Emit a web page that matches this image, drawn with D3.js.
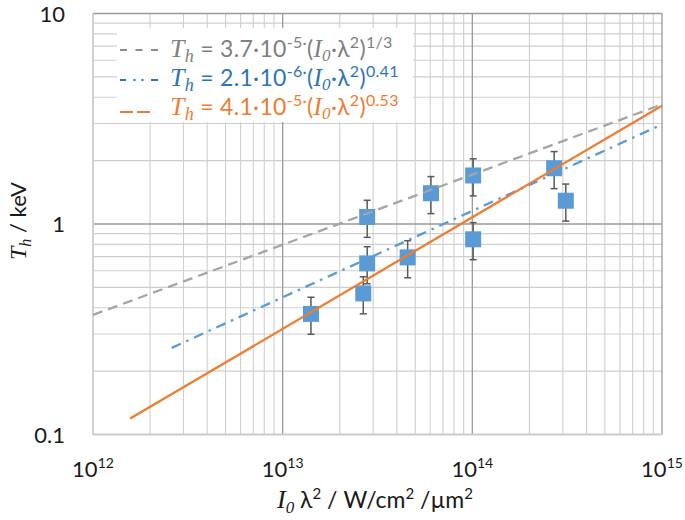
<!DOCTYPE html>
<html><head><meta charset="utf-8">
<script src="https://cdn.jsdelivr.net/npm/d3@7"></script>
<style>body{margin:0;background:#fff}svg{display:block}</style>
</head><body>
<svg id="c" width="685" height="520"></svg>
<script>
// ---- data ----
const pointX = [1.41e13, 2.79e13, 2.79e13, 2.66e13, 4.56e13, 6.05e13, 1.01e14, 1.01e14, 2.70e14, 3.11e14];
const pointY = [0.374, 1.08, 0.65, 0.468, 0.694, 1.40, 1.70, 0.846, 1.84, 1.29];
const errFraction = 0.2;
const grayFitX = [1e12, 1e15], grayFitY = [0.37, 3.7];
const blueFitX = [2.6e12, 1e15], blueFitY = [0.258, 2.97];
const orangeFitX = [1.57e12, 1e15], orangeFitY = [0.119, 3.65];
const xTickValues = [1e12, 1e13, 1e14, 1e15];
const xTickExponents = ["12", "13", "14", "15"];
const yTickValues = [0.1, 1, 10];
const yTickLabels = ["0.1", "1", "10"];

const svg = d3.select("#c");
const L = 93, R = 662, T = 13.5, B = 434.5;
const x = d3.scaleLog().domain([1e12, 1e15]).range([L, R]);
const y = d3.scaleLog().domain([0.1, 10]).range([B, T]);
const sans = "Lato, 'Open Sans', sans-serif";
const serif = "'Liberation Serif', 'DejaVu Serif', serif";

// minor gridlines
const minorX = [], minorY = [];
for (let e = 12; e < 15; e++) for (let m = 2; m <= 9; m++) minorX.push(m * Math.pow(10, e));
for (let e = -1; e < 1; e++) for (let m = 2; m <= 9; m++) minorY.push(m * Math.pow(10, e));
const g = svg.append("g");
g.selectAll(".mx").data(minorX).enter().append("line")
  .attr("x1", d => x(d)).attr("x2", d => x(d)).attr("y1", T).attr("y2", B)
  .attr("stroke", "#cfcfcf").attr("stroke-width", 1.1);
g.selectAll(".my").data(minorY).enter().append("line")
  .attr("y1", d => y(d)).attr("y2", d => y(d)).attr("x1", L).attr("x2", R)
  .attr("stroke", "#cfcfcf").attr("stroke-width", 1.1);
// major gridlines
g.selectAll(".Mx").data(xTickValues.slice(1)).enter().append("line")
  .attr("x1", d => x(d)).attr("x2", d => x(d)).attr("y1", T).attr("y2", B)
  .attr("stroke", "#9a9a9a").attr("stroke-width", 1.3);
g.selectAll(".My").data(yTickValues.slice(1)).enter().append("line")
  .attr("y1", d => y(d)).attr("y2", d => y(d)).attr("x1", L).attr("x2", R)
  .attr("stroke", "#9a9a9a").attr("stroke-width", 1.3);
// axis lines
g.append("line").attr("x1", L).attr("x2", L).attr("y1", T).attr("y2", B).attr("stroke", "#cccccc").attr("stroke-width", 1.8);
g.append("line").attr("x1", L).attr("x2", R).attr("y1", B).attr("y2", B).attr("stroke", "#cccccc").attr("stroke-width", 1.8);

// error bars
const pts = pointX.map((v, i) => ({x: v, y: pointY[i]}));
const eb = svg.append("g").attr("stroke", "#595959").attr("stroke-width", 1.5);
pts.forEach(p => {
  const y1 = y(p.y * (1 + errFraction)), y2 = y(p.y * (1 - errFraction)), cx = x(p.x);
  eb.append("line").attr("x1", cx).attr("x2", cx).attr("y1", y1).attr("y2", y2);
  eb.append("line").attr("x1", cx - 3.5).attr("x2", cx + 3.5).attr("y1", y1).attr("y2", y1);
  eb.append("line").attr("x1", cx - 3.5).attr("x2", cx + 3.5).attr("y1", y2).attr("y2", y2);
});
// markers
svg.append("g").selectAll("rect").data(pts).enter().append("rect")
  .attr("x", d => x(d.x) - 8).attr("y", d => y(d.y) - 8)
  .attr("width", 16).attr("height", 16).attr("fill", "#5b9bd5");

// fit lines
const line = d3.line().x(d => x(d[0])).y(d => y(d[1]));
function fit(xs, ys, color, dash) {
  svg.append("path").datum(xs.map((v, i) => [v, ys[i]])).attr("d", line)
    .attr("fill", "none").attr("stroke", color).attr("stroke-width", 2.3)
    .attr("stroke-dasharray", dash);
}
fit(grayFitX, grayFitY, "#a5a5a5", "10,6");
fit(blueFitX, blueFitY, "#5b9bd5", "10,6,2.5,6");
fit(orangeFitX, orangeFitY, "#ed7d31", null);

// legend box
svg.append("rect").attr("x", 117).attr("y", 28).attr("width", 296).attr("height", 94).attr("fill", "#fff");
const legendRows = [
  {color: "#7f7f7f", coef: "3.7", exp: "-5·", pow: "1/3", base: 57},
  {color: "#2e75b6", coef: "2.1", exp: "-6·", pow: "0.41", base: 86},
  {color: "#ed7d31", coef: "4.1", exp: "-5·", pow: "0.53", base: 115}
];
// legend samples
svg.append("line").attr("x1", 120).attr("x2", 158).attr("y1", 50).attr("y2", 50)
  .attr("stroke", "#8c8c8c").attr("stroke-width", 2.2).attr("stroke-dasharray", "7,8.5");
svg.append("line").attr("x1", 120).attr("x2", 158).attr("y1", 80).attr("y2", 80)
  .attr("stroke", "#2e75b6").attr("stroke-width", 2.2).attr("stroke-dasharray", "6,7.5,2,6,2,7.5,7");
svg.append("line").attr("x1", 120).attr("x2", 150).attr("y1", 112).attr("y2", 112)
  .attr("stroke", "#ed7d31").attr("stroke-width", 2.2).attr("stroke-dasharray", "13,4,13");

legendRows.forEach(r => {
  const t = svg.append("text").attr("x", 170).attr("y", r.base).attr("fill", r.color)
    .attr("font-family", sans).attr("font-size", 23).attr("letter-spacing", 0.3);
  t.append("tspan").attr("font-family", serif).attr("font-style", "italic").attr("font-size", 26).text("T");
  t.append("tspan").attr("font-family", serif).attr("font-style", "italic").attr("font-size", 18).attr("dy", 5).text("h");
  t.append("tspan").attr("dy", -5).text(" = " + r.coef + "·10");
  t.append("tspan").attr("font-size", 16).attr("dy", -9).text(r.exp);
  t.append("tspan").attr("dy", 9).text("(");
  t.append("tspan").attr("font-family", serif).attr("font-style", "italic").attr("font-size", 25).text("I");
  t.append("tspan").attr("font-family", serif).attr("font-style", "italic").attr("font-size", 17).attr("dy", 4).text("0");
  t.append("tspan").attr("dy", -4).text("·λ");
  t.append("tspan").attr("font-size", 16).attr("dy", -9).text("2");
  t.append("tspan").attr("dy", 9).text(")");
  t.append("tspan").attr("font-size", 16).attr("dy", -9).text(r.pow);
});

// y tick labels
svg.append("g").selectAll("text").data(yTickValues).enter().append("text")
  .attr("x", 65).attr("y", d => y(d) + 8).attr("text-anchor", "end")
  .attr("font-family", sans).attr("font-size", 22).attr("fill", "#1a1a1a")
  .text((d, i) => yTickLabels[i]);
// x tick labels
xTickValues.forEach((v, i) => {
  const t = svg.append("text").attr("x", x(v)).attr("y", 477).attr("text-anchor", "middle")
    .attr("font-family", sans).attr("font-size", 22).attr("fill", "#1a1a1a");
  t.append("tspan").text("10");
  t.append("tspan").attr("font-size", 14).attr("dy", -9).text(xTickExponents[i]);
});

// x axis title
const xt = svg.append("text").attr("x", 375).attr("y", 508).attr("text-anchor", "middle")
  .attr("font-family", sans).attr("font-size", 23).attr("fill", "#1a1a1a");
xt.append("tspan").attr("font-family", serif).attr("font-style", "italic").attr("font-size", 26).text("I");
xt.append("tspan").attr("font-family", serif).attr("font-style", "italic").attr("font-size", 17).attr("dy", 5).text("0");
xt.append("tspan").attr("dy", -5).text(" λ");
xt.append("tspan").attr("font-size", 15).attr("dy", -9).text("2");
xt.append("tspan").attr("dy", 9).text(" / W/cm");
xt.append("tspan").attr("font-size", 15).attr("dy", -9).text("2");
xt.append("tspan").attr("dy", 9).text(" /µm");
xt.append("tspan").attr("font-size", 15).attr("dy", -9).text("2");

// y axis title
const yt = svg.append("text").attr("transform", "translate(26,221) rotate(-90)").attr("text-anchor", "middle")
  .attr("font-family", sans).attr("font-size", 22).attr("fill", "#1a1a1a");
yt.append("tspan").attr("font-family", serif).attr("font-style", "italic").attr("font-size", 24).text("T");
yt.append("tspan").attr("font-family", serif).attr("font-style", "italic").attr("font-size", 16).attr("dy", 5).text("h");
yt.append("tspan").attr("dy", -5).text(" / keV");
</script>
</body></html>
